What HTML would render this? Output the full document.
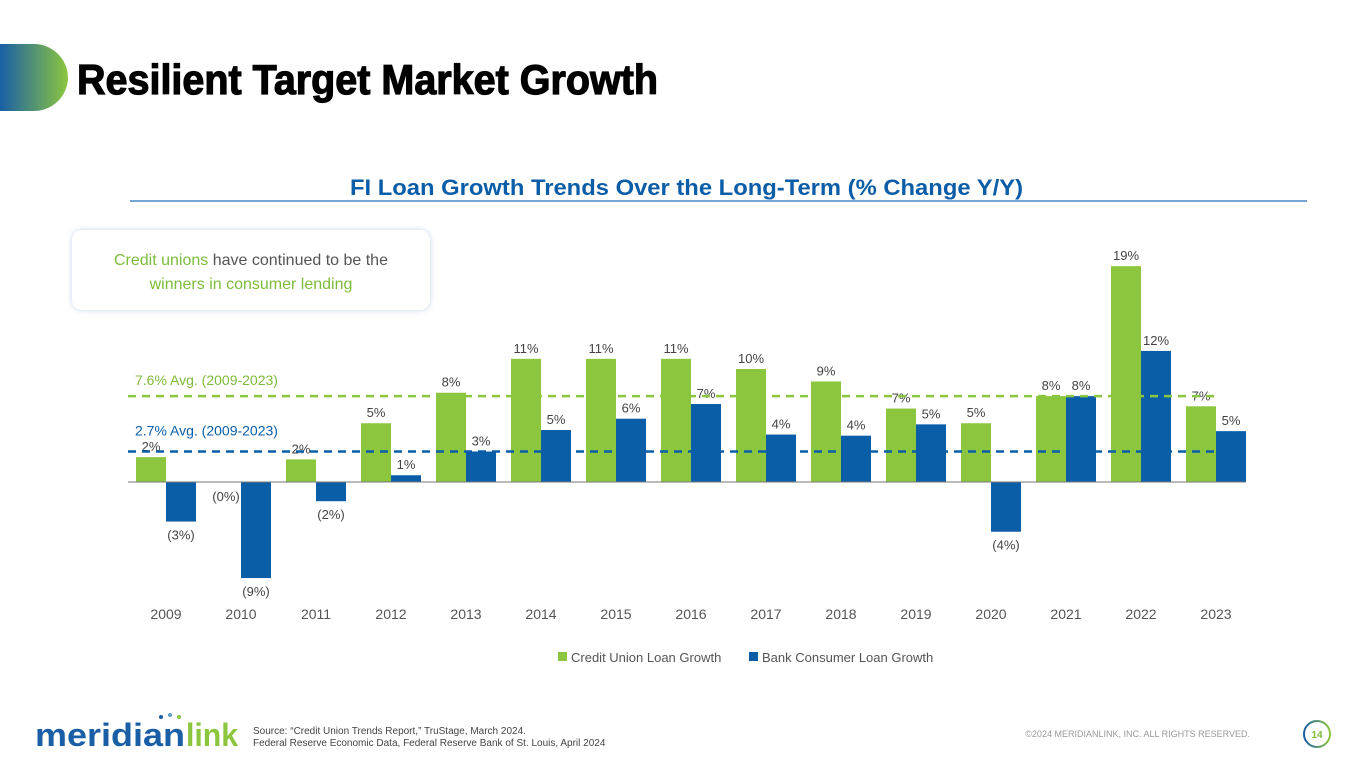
<!DOCTYPE html>
<html><head><meta charset="utf-8"><style>
body{margin:0;width:1365px;height:768px;overflow:hidden;background:#fff;font-family:"Liberation Sans",sans-serif}
svg{display:block}
</style></head><body>
<svg id="s" width="1365" height="768" xmlns="http://www.w3.org/2000/svg">
<defs>
<linearGradient id="g" x1="0" x2="1"><stop offset="0" stop-color="#1a5fa6"/><stop offset="1" stop-color="#8cc63f"/></linearGradient>
<filter id="sh" x="-10%" y="-20%" width="120%" height="140%"><feDropShadow dx="0" dy="0" stdDeviation="3" flood-color="#9bb8d6" flood-opacity="0.6"/></filter>
</defs>
<path d="M0 44 H34 A34 34 0 0 1 68 78 V78 A34 34 0 0 1 34 111 H0 Z" fill="url(#g)"/>
<text x="77" y="94" font-size="42" font-weight="bold" fill="#000" stroke="#000" stroke-width="1.2" textLength="581" lengthAdjust="spacingAndGlyphs">Resilient Target Market Growth</text>
<text x="350" y="195" font-size="22" font-weight="bold" fill="#0b5da8" textLength="673" lengthAdjust="spacingAndGlyphs">FI Loan Growth Trends Over the Long-Term (% Change Y/Y)</text>
<line x1="130" y1="201" x2="1307" y2="201" stroke="#1f6fb8" stroke-width="1.2"/>
<rect x="72" y="230" width="358" height="80" rx="10" fill="#fff" filter="url(#sh)"/>
<text x="251" y="265" font-size="16" text-anchor="middle" fill="#555"><tspan fill="#7dbb3b">Credit unions</tspan> have continued to be the</text>
<text x="251" y="289" font-size="16" text-anchor="middle" fill="#7dbb3b">winners in consumer lending</text>
<g id="chart"></g>
<g>
<rect x="558" y="652" width="9" height="9" fill="#8cc63f"/>
<text x="571" y="662" font-size="13" fill="#555">Credit Union Loan Growth</text>
<rect x="749" y="652" width="9" height="9" fill="#0a5ea8"/>
<text x="762" y="662" font-size="13" fill="#555">Bank Consumer Loan Growth</text>
</g>
<g>
<text x="35" y="746" font-size="32" font-weight="bold" fill="#1a5fa6" textLength="150" lengthAdjust="spacingAndGlyphs">meridian</text>
<text x="186" y="746" font-size="32" font-weight="bold" fill="#8cc63f" textLength="52" lengthAdjust="spacingAndGlyphs">link</text>
<circle cx="161" cy="717" r="2" fill="#1a5fa6"/><circle cx="170" cy="715" r="2" fill="#5fa0c8"/><circle cx="179" cy="717" r="2" fill="#8cc63f"/>
</g>
<text x="253" y="734" font-size="10" fill="#444">Source: “Credit Union Trends Report,” TruStage, March 2024.</text>
<text x="253" y="746" font-size="10" fill="#444">Federal Reserve Economic Data, Federal Reserve Bank of St. Louis, April 2024</text>
<text x="1250" y="737" font-size="9" fill="#999" text-anchor="end">©2024 MERIDIANLINK, INC. ALL RIGHTS RESERVED.</text>
<circle cx="1317" cy="734" r="13" fill="#fff" stroke="url(#g)" stroke-width="2"/>
<text x="1317" y="738" font-size="10" font-weight="bold" fill="#7dbb3b" text-anchor="middle">14</text>
</svg>
<script>
const years=["2009","2010","2011","2012","2013","2014","2015","2016","2017","2018","2019","2020","2021","2022","2023"];
const cuValues=[2.2,0,2.0,5.2,7.9,10.9,10.9,10.9,10.0,8.9,6.5,5.2,7.6,19.1,6.7];
const cuLabels=["2%","","2%","5%","8%","11%","11%","11%","10%","9%","7%","5%","8%","19%","7%"];
const bankValues=[-3.5,-8.5,-1.7,0.6,2.7,4.6,5.6,6.9,4.2,4.1,5.1,-4.4,7.6,11.6,4.5];
const bankLabels=["(3%)","(9%)","(2%)","1%","3%","5%","6%","7%","4%","4%","5%","(4%)","8%","12%","5%"];
const cuAvg=7.6, bankAvg=2.7;
const NS="http://www.w3.org/2000/svg";
const g=document.getElementById('chart');
const x0=128,step=75,zeroY=482,ppu=11.3,bw=30;
const y=v=>zeroY-v*ppu;
const cx=i=>x0+38+i*step;
function el(t,a){const e=document.createElementNS(NS,t);for(const k in a)e.setAttribute(k,a[k]);g.appendChild(e);return e;}
function txt(x,yy,s,fill){const e=el('text',{x:x,y:yy,'font-size':13,'text-anchor':'middle',fill:fill||'#444'});e.textContent=s;return e;}
years.forEach((yr,i)=>{
 const c=cx(i);
 const v=cuValues[i];
 const r=el('rect',{x:c-bw,y:Math.min(y(v),zeroY),width:bw,height:Math.abs(y(v)-zeroY),fill:'#8cc63f'});
 
 
 if(cuLabels[i]){const t=txt(c-bw/2,y(v)-6,cuLabels[i]);
 
 }
 const b=bankValues[i];
 const r2=el('rect',{x:c,y:Math.min(y(b),zeroY),width:bw,height:Math.abs(y(b)-zeroY),fill:'#0a5ea8'});
 
 
 const ly=b<0?y(b)+18:y(b)-6;
 const t2=txt(c+bw/2,ly,bankLabels[i]);
 
 
 const xl=txt(c,619,yr,'#555');xl.setAttribute('font-size',14);
 
 
});
const z=txt(cx(1)-15,501,"(0%)");


const ax=el('line',{x1:x0,y1:zeroY,x2:x0+15*step-7,y2:zeroY,stroke:'#777','stroke-width':1});


const a1=el('line',{x1:x0,y1:y(cuAvg),x2:1215,y2:y(cuAvg),stroke:'#8cc63f','stroke-width':2.5,'stroke-dasharray':'8,6'});


const a2=el('line',{x1:x0,y1:y(bankAvg),x2:1215,y2:y(bankAvg),stroke:'#0a5ea8','stroke-width':2.5,'stroke-dasharray':'8,6'});


const l1=el('text',{x:135,y:y(cuAvg)-11,'font-size':14,fill:'#7dbb3b'});l1.textContent=cuAvg+"% Avg. (2009-2023)";


const l2=el('text',{x:135,y:y(bankAvg)-16,'font-size':14,fill:'#0a5ea8'});l2.textContent=bankAvg+"% Avg. (2009-2023)";


</script>
</body></html>
